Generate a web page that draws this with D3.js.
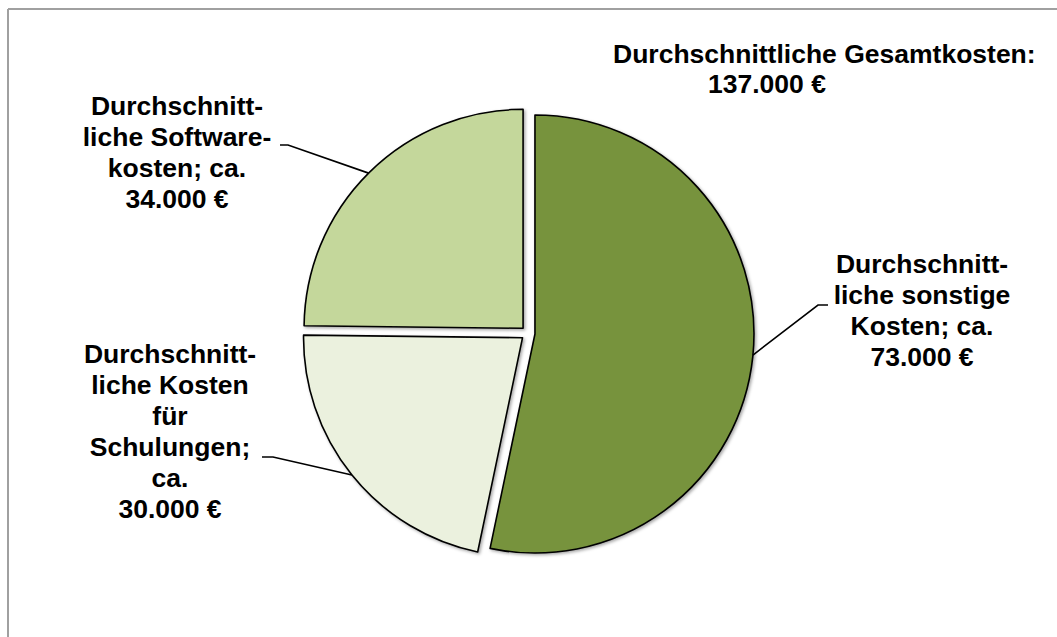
<!DOCTYPE html>
<html><head><meta charset="utf-8">
<script src="https://cdn.jsdelivr.net/npm/d3@7"></script>
<style>html,body{margin:0;padding:0;background:#fff;}svg{display:block;}</style>
</head><body>
<svg id="c" width="1057" height="637"></svg>
<script>
const categories = ["Durchschnittliche sonstige Kosten","Durchschnittliche Kosten für Schulungen","Durchschnittliche Softwarekosten"];
const values = [73000, 30000, 34000];
const colors = ["#77933C", "#EBF1DE", "#C4D79B"];
const labelLines = [
  ["Durchschnitt-","liche sonstige","Kosten; ca.","73.000 €"],
  ["Durchschnitt-","liche Kosten","für","Schulungen;","ca.","30.000 €"],
  ["Durchschnitt-","liche Software-","kosten; ca.","34.000 €"]
];
const titleLines = ["Durchschnittliche Gesamtkosten:", "137.000 €"];

const svg = d3.select("#c");
const W = 1057, H = 637;
// frame
svg.append("line").attr("x1",8).attr("x2",W).attr("y1",9).attr("y2",9).attr("stroke","#a0a0a0").attr("stroke-width",2);
svg.append("line").attr("x1",8).attr("x2",8).attr("y1",9).attr("y2",H).attr("stroke","#a0a0a0").attr("stroke-width",2);

const defs = svg.append("defs");
const f = defs.append("filter").attr("id","sh").attr("x","-10%").attr("y","-10%").attr("width","130%").attr("height","130%");
f.append("feDropShadow").attr("dx",1.5).attr("dy",1.5).attr("stdDeviation",1.5).attr("flood-color","#000").attr("flood-opacity",0.35);

const cx = 528, cy = 333.3, R = 219, explode = 7;
const pie = d3.pie().sort(null).value(d=>d);
const arcs = pie(values);
const arc = d3.arc().innerRadius(0).outerRadius(R);
const g = svg.append("g").attr("transform",`translate(${cx},${cy})`);
g.selectAll("path").data(arcs).join("path")
  .attr("d", arc)
  .attr("fill",(d,i)=>colors[i])
  .attr("stroke","#000").attr("stroke-width",1.6).attr("stroke-linejoin","round")
  .attr("filter","url(#sh)")
  .attr("transform", d=>{const a=(d.startAngle+d.endAngle)/2; return `translate(${explode*Math.sin(a)},${-explode*Math.cos(a)})`;});

const labelPos = [
  {x:922, y:273, leader:[[828,305],[818,305]]},
  {x:170, y:363, leader:[[262,457],[273,457]]},
  {x:177, y:115, leader:[[280,145],[288,145]]}
];
const leaderAngles = [1.667, 4.035, 5.50]; // radians, clockwise from top
const font = "'Liberation Sans', Arial, Helvetica, sans-serif";
const fs = 26.5;
const lh = 31;
labelPos.forEach((p,i)=>{
  const a = arcs[i], mid=(a.startAngle+a.endAngle)/2;
  const ox = cx + explode*Math.sin(mid), oy = cy - explode*Math.cos(mid);
  const ang = leaderAngles[i];
  const ex = ox + R*Math.sin(ang), ey = oy - R*Math.cos(ang);
  const pts = [p.leader[0], p.leader[1], [ex,ey]];
  svg.append("path").attr("d", d3.line()(pts)).attr("fill","none").attr("stroke","#000").attr("stroke-width",1.6);
  const t = svg.append("text").attr("font-family",font).attr("font-weight","bold").attr("font-size",fs).attr("fill","#000").attr("text-anchor","middle");
  labelLines[i].forEach((ln,j)=>{
    t.append("tspan").attr("x",p.x).attr("y",p.y+j*lh).text(ln);
  });
});
// title
svg.append("text").attr("font-family",font).attr("font-weight","bold").attr("font-size",fs)
  .attr("x",613).attr("y",63).text(titleLines[0]);
svg.append("text").attr("font-family",font).attr("font-weight","bold").attr("font-size",fs)
  .attr("x",708).attr("y",93).text(titleLines[1]);
</script>
</body></html>
